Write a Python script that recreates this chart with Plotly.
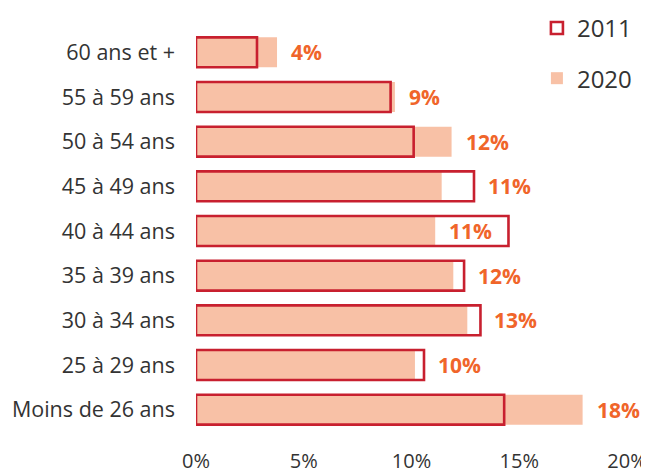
import plotly.graph_objects as go

# age bands, top to bottom as shown
ages = ["60 ans et +", "55 à 59 ans", "50 à 54 ans", "45 à 49 ans", "40 à 44 ans",
        "35 à 39 ans", "30 à 34 ans", "25 à 29 ans", "Moins de 26 ans"]
share_2011 = [2.83, 9.03, 10.1, 12.9, 14.5, 12.44, 13.2, 10.58, 14.3]
share_2020 = [3.76, 9.23, 11.86, 11.4, 11.1, 11.94, 12.59, 10.16, 17.94]
labels_2020 = ["4%", "9%", "12%", "11%", "11%", "12%", "13%", "10%", "18%"]
x_ticks = [0, 5, 10, 15, 20]
x_ticktext = ["0%", "5%", "10%", "15%", "20%"]

FILL = "#F8C1A6"
RED = "#C8202F"
ORANGE = "#F0652A"
TEXT = "#333333"
FONT = "Open Sans"

fig = go.Figure()
fig.add_trace(go.Bar(
    y=ages, x=share_2020, orientation="h", name="2020", width=0.67,
    marker=dict(color=FILL, line=dict(width=0)), legendrank=2, legendgroup="b",
))
fig.add_trace(go.Bar(
    y=ages, x=share_2011, orientation="h", name="2011", width=0.67,
    marker=dict(color="rgba(255,255,255,0)", line=dict(color=RED, width=2.6)),
    legendrank=1, legendgroup="a",
))

# value labels: inside the 2011 outline when there is room, otherwise past both bars
for age, v11, v20, lab in zip(ages, share_2011, share_2020, labels_2020):
    anchor = v20 if v11 - v20 > 3 else max(v11, v20)
    fig.add_annotation(
        x=anchor, y=age, text=f"<b>{lab}</b>", showarrow=False,
        xanchor="left", xshift=12, font=dict(color=ORANGE, size=21, family=FONT),
    )

# the page body adds an 8px margin, so the figure is sized 8px short
fig.update_layout(
    width=641, height=465,
    paper_bgcolor="white", plot_bgcolor="white",
    barmode="overlay",
    font=dict(family=FONT, color=TEXT, size=20),
    margin=dict(l=188, r=22, t=22, b=41, autoexpand=False),
    legend=dict(x=0.791, y=1.06, xanchor="left", yanchor="top",
                font=dict(size=24, color=TEXT), tracegroupgap=16,
                itemwidth=30, bgcolor="rgba(0,0,0,0)"),
    xaxis=dict(range=[0, 20], tickvals=x_ticks, ticktext=x_ticktext,
               showgrid=False, zeroline=False, showline=False, automargin=False,
               ticklabelstandoff=15, tickfont=dict(size=20, color=TEXT)),
    yaxis=dict(autorange="reversed", showgrid=False, showline=False,
               automargin=False, ticklabelstandoff=20,
               tickfont=dict(size=21.5, color=TEXT)),
)

fig.write_html("out.html")
